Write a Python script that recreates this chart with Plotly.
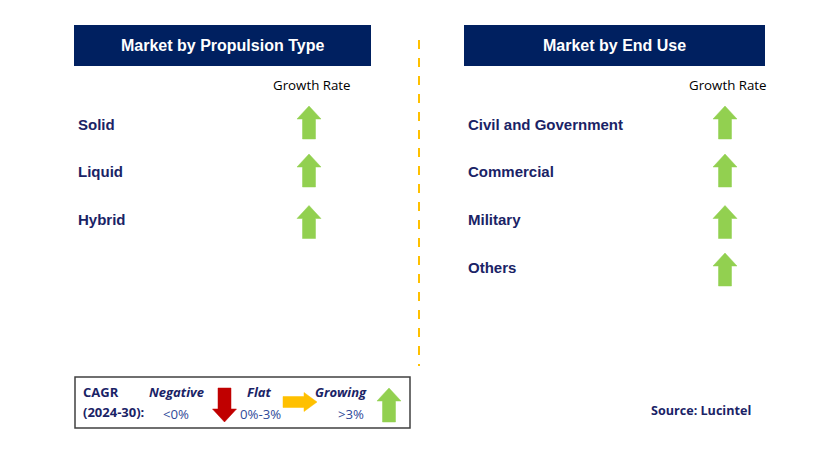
import plotly.graph_objects as go

# ---- data ----
propulsion_types = ["Solid", "Liquid", "Hybrid"]
propulsion_growth = ["Growing", "Growing", "Growing"]
end_uses = ["Civil and Government", "Commercial", "Military", "Others"]
end_use_growth = ["Growing", "Growing", "Growing", "Growing"]
panel_titles = ["Market by Propulsion Type", "Market by End Use"]
column_label = "Growth Rate"
legend_labels = ["Negative", "Flat", "Growing"]
legend_ranges = ["<0%", "0%-3%", ">3%"]
cagr_label = ["CAGR", "(2024-30):"]
source_text = "Source: Lucintel"

NAVY = "#002060"
TEXT_NAVY = "#1A2366"
GREEN = "#92D050"
RED = "#C00000"
YELLOW = "#FFC000"
W, H = 829, 460
OFF = 8  # page body margin offset

fig = go.Figure()


def up_arrow(cx, top, bottom, head_w=24, shaft_w=13, head_h=13):
    xs = [cx, cx + head_w / 2, cx + shaft_w / 2, cx + shaft_w / 2,
          cx - shaft_w / 2, cx - shaft_w / 2, cx - head_w / 2, cx]
    ys = [top, top + head_h, top + head_h, bottom, bottom, top + head_h, top + head_h, top]
    return xs, ys


def down_arrow(cx, top, bottom, head_w=24, shaft_w=13, head_h=13):
    xs = [cx, cx + head_w / 2, cx + shaft_w / 2, cx + shaft_w / 2,
          cx - shaft_w / 2, cx - shaft_w / 2, cx - head_w / 2, cx]
    ys = [bottom, bottom - head_h, bottom - head_h, top, top, bottom - head_h, bottom - head_h, bottom]
    return xs, ys


def right_arrow(left, right, cy, head_h=19, shaft_h=11, head_w=13):
    xs = [right, right - head_w, right - head_w, left, left, right - head_w, right - head_w, right]
    ys = [cy, cy - head_h / 2, cy - shaft_h / 2, cy - shaft_h / 2,
          cy + shaft_h / 2, cy + shaft_h / 2, cy + head_h / 2, cy]
    return xs, ys


def add_poly(xs, ys, color):
    fig.add_trace(go.Scatter(x=xs, y=ys, fill="toself", fillcolor=color, mode="lines",
                             line=dict(color=color, width=0.5), hoverinfo="skip", showlegend=False))


def arrow_for(status, cx, cy):
    if status == "Growing":
        xs, ys = up_arrow(cx, cy - 16.5, cy + 16.5)
        add_poly(xs, ys, GREEN)
    elif status == "Negative":
        xs, ys = down_arrow(cx, cy - 16.5, cy + 16.5)
        add_poly(xs, ys, RED)
    else:
        xs, ys = right_arrow(cx - 17, cx + 17, cy)
        add_poly(xs, ys, YELLOW)


shapes = []
annotations = []
SANS = "Liberation Sans, Arial"
CAL = "Open Sans, Carlito"

panels = [
    dict(x0=74, x1=371, label_x=76, arrow_x=309, cats=propulsion_types, growth=propulsion_growth),
    dict(x0=464, x1=765, label_x=466, arrow_x=725, cats=end_uses, growth=end_use_growth),
]
row_y = [124, 171.5, 219, 267]
arrow_y = [122.5, 170.5, 222, 269.5]

for title, p in zip(panel_titles, panels):
    shapes.append(dict(type="rect", xref="x", yref="y", x0=p["x0"], x1=p["x1"], y0=25, y1=66,
                       fillcolor=NAVY, line=dict(width=0), layer="below"))
    annotations.append(dict(x=(p["x0"] + p["x1"]) / 2, y=45.5, xref="x", yref="y",
                            text="<b>%s</b>" % title, showarrow=False,
                            font=dict(family=SANS, size=16, color="white")))
    annotations.append(dict(x=p["arrow_x"] + 2.5, y=84.5, xref="x", yref="y", text=column_label,
                            showarrow=False,
                            font=dict(family=CAL, size=13.3, color="black")))
    for i, (cat, g) in enumerate(zip(p["cats"], p["growth"])):
        annotations.append(dict(x=p["label_x"], y=row_y[i], xref="x", yref="y", xanchor="left",
                                text="<b>%s</b>" % cat, showarrow=False,
                                font=dict(family=SANS, size=15, color=TEXT_NAVY)))
        arrow_for(g, p["arrow_x"], arrow_y[i])

# divider
shapes.append(dict(type="line", xref="x", yref="y", x0=419, x1=419, y0=40, y1=366,
                   line=dict(color=YELLOW, width=2, dash="dash")))

# legend box
shapes.append(dict(type="rect", xref="x", yref="y", x0=75, x1=410, y0=377, y1=428,
                   fillcolor="white", line=dict(color="#404040", width=1.5), layer="below"))
annotations.append(dict(x=81, y=392, xref="x", yref="y", xanchor="left", text="<b>%s</b>" % cagr_label[0],
                        showarrow=False, font=dict(family=CAL, size=13, color=TEXT_NAVY)))
annotations.append(dict(x=81, y=412, xref="x", yref="y", xanchor="left", text="<b>%s</b>" % cagr_label[1],
                        showarrow=False, font=dict(family=CAL, size=13, color=TEXT_NAVY)))
legend_text_x = [176, 259, 341]
legend_range_x = [176, 260, 351]
for lab, rng, lx, rx in zip(legend_labels, legend_ranges, legend_text_x, legend_range_x):
    annotations.append(dict(x=lx, y=391.5, xref="x", yref="y", text="<b><i>%s</i></b>" % lab,
                            showarrow=False, font=dict(family=CAL, size=13, color=TEXT_NAVY)))
    annotations.append(dict(x=rx, y=414, xref="x", yref="y", text=rng,
                            showarrow=False, font=dict(family=CAL, size=13.2, color="#2F4A9A")))

xs, ys = down_arrow(224.5, 388, 422)
add_poly(xs, ys, RED)
xs, ys = right_arrow(283, 317, 402)
add_poly(xs, ys, YELLOW)
xs, ys = up_arrow(389, 388, 422)
add_poly(xs, ys, GREEN)

annotations.append(dict(x=700.5, y=410, xref="x", yref="y", text="<b>%s</b>" % source_text,
                        showarrow=False, font=dict(family=CAL, size=12.6, color=TEXT_NAVY)))

fig.update_layout(
    width=W, height=H, margin=dict(l=0, r=0, t=0, b=0),
    paper_bgcolor="white", plot_bgcolor="white",
    xaxis=dict(range=[OFF, W + OFF], visible=False, showgrid=False, zeroline=False, fixedrange=True),
    yaxis=dict(range=[H + OFF, OFF], visible=False, showgrid=False, zeroline=False, fixedrange=True),
    shapes=shapes, annotations=annotations, showlegend=False,
)

fig.write_html("out.html")
